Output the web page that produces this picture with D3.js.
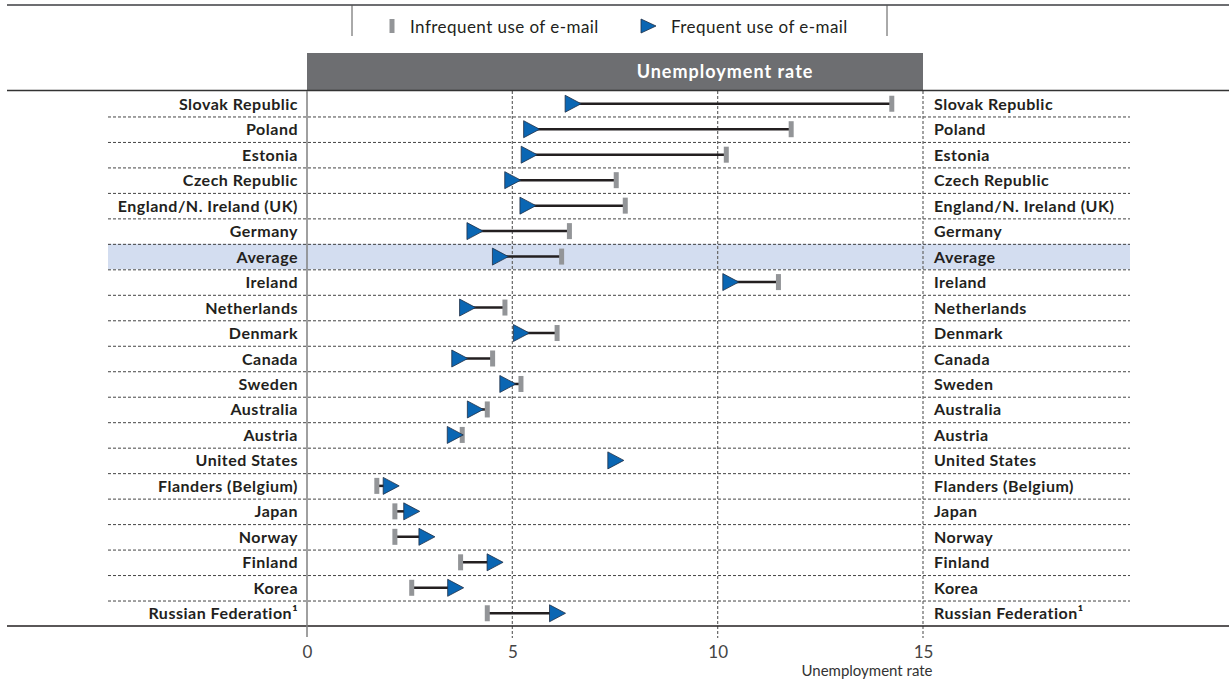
<!DOCTYPE html>
<html lang="en">
<head>
    <meta charset="UTF-8">
    <title>Unemployment rate by frequency of e-mail use</title>
    <script src="https://d3js.org/d3.v7.min.js"></script>
    <style>
        body {
            margin: 0;
            background: #fff;
            font-family: Lato, "Open Sans", sans-serif;
        }
        .row-label {
            font-size: 16px;
            font-weight: bold;
            letter-spacing: 0.5px;
            fill: #231f20;
        }
        .legend text {
            font-size: 17px;
            letter-spacing: 0.45px;
            fill: #231f20;
        }
        .x-axis text {
            font-size: 17px;
            fill: #444;
        }
    </style>
</head>
<body>
    <svg id="chart" width="1229" height="683"></svg>

    <script>
        // Données
        const countries = [
            "Slovak Republic", "Poland", "Estonia", "Czech Republic", "England/N. Ireland (UK)",
            "Germany", "Average", "Ireland", "Netherlands", "Denmark", "Canada", "Sweden",
            "Australia", "Austria", "United States", "Flanders (Belgium)", "Japan", "Norway",
            "Finland", "Korea", "Russian Federation¹"
        ];
        const infrequent = [14.24, 11.79, 10.21, 7.53, 7.75, 6.39, 6.20, 11.48, 4.82, 6.09, 4.52,
            5.21, 4.39, 3.78, null, 1.70, 2.14, 2.14, 3.74, 2.55, 4.39];
        const frequent = [6.48, 5.47, 5.41, 5.01, 5.38, 4.09, 4.71, 10.32, 3.91, 5.22, 3.72,
            4.89, 4.10, 3.61, 7.52, 2.05, 2.55, 2.92, 4.58, 3.62, 6.10];
        const xTicks = [0, 5, 10, 15];
        const highlight = "Average";

        const data = countries.map((c, i) => ({ country: c, infrequent: infrequent[i], frequent: frequent[i] }));

        const svg = d3.select("#chart");

        // Échelles
        const x = d3.scaleLinear().domain([0, 15]).range([307, 923]);
        const y = d3.scaleBand().domain(countries).range([91, 626]);

        const rowLeft = 108, rowRight = 1130;

        // Ligne du haut + boîte de légende
        svg.append("line")
            .attr("x1", 7).attr("x2", 1229).attr("y1", 5).attr("y2", 5)
            .attr("stroke", "#6d6e71").attr("stroke-width", 2);
        [352, 887].forEach(lx => {
            svg.append("line")
                .attr("x1", lx).attr("x2", lx).attr("y1", 5).attr("y2", 36)
                .attr("stroke", "#555").attr("stroke-width", 1);
        });

        const legend = svg.append("g").attr("class", "legend");
        legend.append("rect")
            .attr("x", 389.5).attr("y", 19).attr("width", 5).attr("height", 14)
            .attr("fill", "#939598");
        legend.append("text")
            .attr("x", 410).attr("y", 33).text("Infrequent use of e-mail");
        legend.append("path")
            .attr("d", "M641,19L656,26L641,33Z")
            .attr("fill", "#0a66b3").attr("stroke", "#1f2f45").attr("stroke-width", 0.8);
        legend.append("text")
            .attr("x", 671).attr("y", 33).text("Frequent use of e-mail");

        // En-tête
        svg.append("rect")
            .attr("x", x(0)).attr("y", 53).attr("width", x(15) - x(0)).attr("height", 38)
            .attr("fill", "#6d6e71");
        svg.append("text")
            .attr("x", 725).attr("y", 78)
            .attr("text-anchor", "middle")
            .attr("fill", "#fff")
            .attr("font-size", "18px")
            .attr("letter-spacing", "1px")
            .attr("font-weight", "bold")
            .text("Unemployment rate");

        // Ligne surlignée (Average)
        svg.append("rect")
            .attr("x", rowLeft).attr("y", y(highlight))
            .attr("width", rowRight - rowLeft).attr("height", y.bandwidth())
            .attr("fill", "#d3ddf0");

        // Séparateurs en pointillés
        svg.selectAll(".sep")
            .data(countries.slice(1))
            .enter()
            .append("line")
            .attr("class", "sep")
            .attr("x1", rowLeft).attr("x2", rowRight)
            .attr("y1", d => y(d) + 0.5).attr("y2", d => y(d) + 0.5)
            .attr("stroke", "#444").attr("stroke-width", 1)
            .attr("stroke-dasharray", "3,2");

        // Grille verticale
        svg.selectAll(".grid")
            .data(xTicks.slice(1))
            .enter()
            .append("line")
            .attr("class", "grid")
            .attr("x1", d => x(d)).attr("x2", d => x(d))
            .attr("y1", 91).attr("y2", 638)
            .attr("stroke", "#666").attr("stroke-width", 1.2)
            .attr("stroke-dasharray", "3,2");

        // Lignes horizontales pleines
        svg.append("line")
            .attr("x1", 7).attr("x2", 1229).attr("y1", 90.5).attr("y2", 90.5)
            .attr("stroke", "#333").attr("stroke-width", 1.5);
        svg.append("line")
            .attr("x1", 7).attr("x2", 1229).attr("y1", 626).attr("y2", 626)
            .attr("stroke", "#231f20").attr("stroke-width", 1.5);
        svg.append("line")
            .attr("x1", x(0)).attr("x2", x(0)).attr("y1", 91).attr("y2", 637)
            .attr("stroke", "#808080").attr("stroke-width", 1.5);

        // Étiquettes gauche et droite
        svg.selectAll(".label-left")
            .data(countries)
            .enter()
            .append("text")
            .attr("class", "row-label")
            .attr("x", 298)
            .attr("y", d => y(d) + y.bandwidth() / 2 + 6)
            .attr("text-anchor", "end")
            .text(d => d);

        svg.selectAll(".label-right")
            .data(countries)
            .enter()
            .append("text")
            .attr("class", "row-label")
            .attr("x", 934)
            .attr("y", d => y(d) + y.bandwidth() / 2 + 6)
            .text(d => d);

        // Axe X
        svg.append("g")
            .attr("class", "x-axis")
            .attr("transform", "translate(0,640)")
            .call(d3.axisBottom(x).tickValues(xTicks).tickSize(0).tickPadding(6))
            .call(g => g.select(".domain").remove())
            .selectAll("text")
            .attr("font-family", "Lato, sans-serif");

        svg.append("text")
            .attr("x", 867).attr("y", 676)
            .attr("text-anchor", "middle")
            .attr("font-size", "15px")
            .attr("fill", "#333")
            .text("Unemployment rate");

        // Marques
        const cy = d => y(d.country) + y.bandwidth() / 2;
        const withBoth = data.filter(d => d.infrequent != null);

        svg.selectAll(".link")
            .data(withBoth)
            .enter()
            .append("line")
            .attr("x1", d => x(d.infrequent)).attr("x2", d => x(d.frequent))
            .attr("y1", cy).attr("y2", cy)
            .attr("stroke", "#231f20").attr("stroke-width", 2.5);

        svg.selectAll(".bar-inf")
            .data(withBoth)
            .enter()
            .append("rect")
            .attr("x", d => x(d.infrequent) - 2.5)
            .attr("y", d => cy(d) - 8)
            .attr("width", 5).attr("height", 16)
            .attr("fill", "#939598");

        svg.selectAll(".tri")
            .data(data)
            .enter()
            .append("path")
            .attr("d", d => {
                const px = x(d.frequent), py = cy(d);
                return `M${px - 8},${py - 8.5}L${px + 8},${py}L${px - 8},${py + 8.5}Z`;
            })
            .attr("fill", "#0a66b3")
            .attr("stroke", "#1f2f45")
            .attr("stroke-width", 0.8);
    </script>
</body>
</html>
